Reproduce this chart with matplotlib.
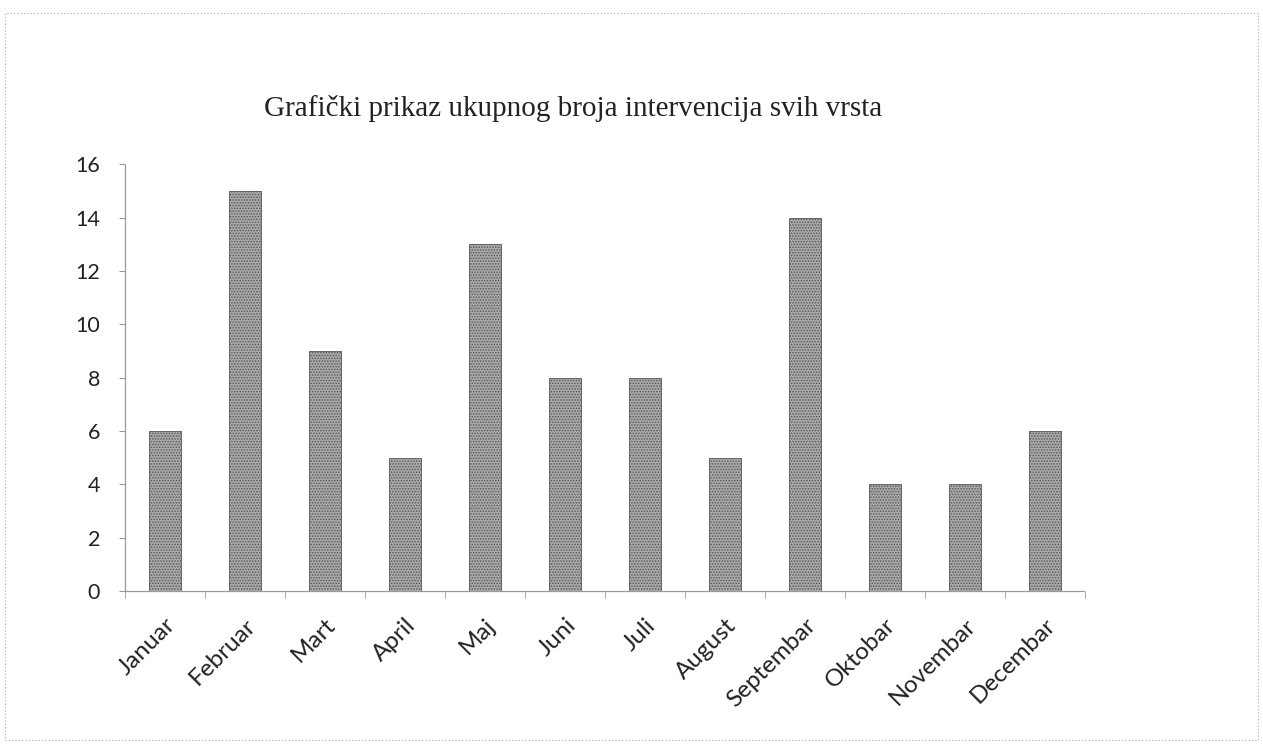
import matplotlib
matplotlib.use("Agg")
import matplotlib.pyplot as plt
from matplotlib.patches import Rectangle

months = ["Januar", "Februar", "Mart", "April", "Maj", "Juni", "Juli",
          "August", "Septembar", "Oktobar", "Novembar", "Decembar"]
values = [6, 15, 9, 5, 13, 8, 8, 5, 14, 4, 4, 6]
yticks = [0, 2, 4, 6, 8, 10, 12, 14, 16]
title = "Grafički prikaz ukupnog broja intervencija svih vrsta"

plt.rcParams['hatch.linewidth'] = 0.7
fig = plt.figure(figsize=(12.63, 7.47), dpi=100)
ax = fig.add_axes([0.099, 0.209, 0.760, 0.571])

x = list(range(len(months)))
ax.bar(x, values, width=0.4, color="#a9a9a9", edgecolor="#555555",
       hatch="......", linewidth=0.6)

ax.set_xlim(-0.5, len(months) - 0.5)
ax.set_ylim(0, 16)
ax.set_yticks(yticks)
ax.set_yticklabels([str(v) for v in yticks], fontsize=15.5, family="Lato", color="#222")
ax.set_xticks(x)
ax.set_xticklabels(months, rotation=45, ha="right", rotation_mode="anchor",
                   fontsize=17.5, family="Lato", color="#222")
ax.tick_params(axis="x", length=0, pad=17)
ax.tick_params(axis="y", length=4, color="#999", pad=14)
ax.set_xticks([i + 0.5 for i in range(-1, len(months))], minor=True)
ax.tick_params(axis="x", which="minor", length=5, color="#999")

for s in ["top", "right"]:
    ax.spines[s].set_visible(False)
ax.spines["left"].set_color("#9a9a9a")
ax.spines["left"].set_linestyle((0, (2, 1)))
ax.spines["left"].set_linewidth(0.9)
ax.spines["bottom"].set_color("#9a9a9a")
ax.spines["bottom"].set_linestyle((0, (3, 1)))
ax.spines["bottom"].set_linewidth(0.9)

fig.text(0.454, 0.855, title, ha="center", va="center", fontsize=21,
         family="Liberation Serif", color="#222")

# scanned page frame
fig.patches.append(Rectangle((0.004, 0.01), 0.992, 0.972, transform=fig.transFigure,
                             fill=False, edgecolor="#aaaaaa", linestyle=(0, (1, 2)),
                             linewidth=0.8))

fig.savefig("out.png", dpi=100, facecolor="white")
